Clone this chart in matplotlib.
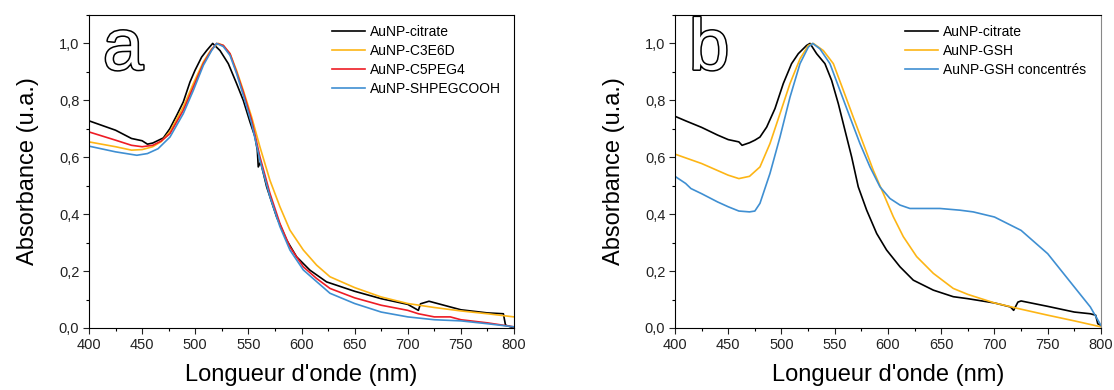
import numpy as np
from matplotlib import pyplot as plt
from matplotlib.ticker import MultipleLocator, FuncFormatter
import matplotlib.patheffects as pe

plt.rcParams['font.family'] = ['Liberation Sans', 'DejaVu Sans']

# ---- panel a ----
wl_cit_a = [400, 425, 440, 450, 455, 460, 470, 476, 482.5, 488.7, 495, 499.7, 506, 510.7, 516.4, 523.3,
            531.1, 538.9, 545.2, 551.5, 556.2, 558.4, 559.3, 561.5, 567.2, 576.6, 586, 595.4, 608, 623.6,
            650, 675, 700, 710, 712, 720, 750, 775, 790, 792, 800]
abs_cit_a = [0.728, 0.695, 0.666, 0.658, 0.646, 0.650, 0.668, 0.700, 0.747, 0.794, 0.864, 0.905, 0.952,
             0.975, 1.0, 0.975, 0.929, 0.859, 0.800, 0.724, 0.672, 0.625, 0.566, 0.584, 0.496, 0.390, 0.309,
             0.250, 0.203, 0.162, 0.129, 0.103, 0.083, 0.062, 0.085, 0.094, 0.064, 0.053, 0.050, 0.010, 0.0]

wl_c3_a = [400, 425, 440, 450, 460, 468, 476.2, 488.7, 498.2, 507.6, 515.4, 521.7, 526.4, 532.7, 538.9,
           545.2, 553.1, 560.9, 570.3, 579.7, 589.1, 601.7, 614.2, 626.8, 650, 675, 700, 725, 750, 775, 800]
abs_c3_a = [0.654, 0.637, 0.625, 0.627, 0.637, 0.655, 0.690, 0.777, 0.859, 0.935, 0.981, 1.0, 0.993, 0.964,
            0.905, 0.835, 0.741, 0.636, 0.519, 0.426, 0.344, 0.274, 0.221, 0.180, 0.142, 0.109, 0.086,
            0.072, 0.060, 0.050, 0.039]

wl_c5_a = [400, 425, 440, 450, 460, 468, 476.2, 488.7, 498.2, 507.6, 515.4, 520.1, 526.4, 532.7, 538.9,
           545.2, 553.1, 560.9, 570.3, 579.7, 589.1, 601.7, 614.2, 626.8, 650, 675, 700, 710, 725, 740, 750,
           775, 800]
abs_c5_a = [0.689, 0.660, 0.642, 0.637, 0.642, 0.657, 0.683, 0.765, 0.847, 0.929, 0.978, 1.0, 0.993, 0.964,
            0.899, 0.829, 0.730, 0.601, 0.473, 0.367, 0.285, 0.215, 0.174, 0.139, 0.106, 0.080, 0.062,
            0.050, 0.039, 0.039, 0.029, 0.018, 0.004]

wl_shp_a = [400, 425, 445, 455, 465, 476.2, 488.7, 498.2, 507.6, 515.4, 520.1, 526.4, 532.7, 538.9, 545.2,
            553.1, 560.9, 570.3, 579.7, 589.1, 601.7, 614.2, 626.8, 650, 675, 700, 725, 750, 775, 800]
abs_shp_a = [0.639, 0.619, 0.607, 0.613, 0.630, 0.671, 0.753, 0.835, 0.923, 0.975, 1.0, 0.989, 0.958,
             0.894, 0.818, 0.718, 0.589, 0.461, 0.356, 0.274, 0.204, 0.163, 0.122, 0.086, 0.056, 0.039,
             0.029, 0.025, 0.015, 0.004]

# ---- panel b ----
wl_cit_b = [400, 410, 425, 440, 450, 460, 463, 470, 475, 479.8, 486.1, 493.9, 501.7, 509.5, 515.8, 523.6,
            526.8, 533, 540.8, 547.1, 553.4, 559.6, 565.9, 572.1, 580, 589.4, 598.7, 611.3, 623.8, 642.6,
            661.3, 675, 700, 715, 718, 722, 725, 750, 775, 790, 795, 797, 800]
abs_cit_b = [0.744, 0.728, 0.705, 0.678, 0.662, 0.654, 0.642, 0.651, 0.660, 0.671, 0.706, 0.771, 0.859,
             0.929, 0.964, 0.993, 1.0, 0.964, 0.929, 0.870, 0.788, 0.695, 0.601, 0.496, 0.414, 0.332,
             0.274, 0.215, 0.168, 0.133, 0.110, 0.103, 0.088, 0.074, 0.062, 0.091, 0.095, 0.076, 0.056,
             0.050, 0.045, 0.015, 0.009]

wl_gsh_b = [400, 425, 450, 460, 470, 479.8, 489.2, 498.6, 508, 517.4, 525.2, 529.9, 539.3, 548.7, 558.1,
            567.4, 576.8, 586.2, 595.6, 605, 614.4, 626.9, 642.6, 661.3, 675, 700, 725, 750, 775, 800]
abs_gsh_b = [0.611, 0.578, 0.537, 0.525, 0.533, 0.566, 0.648, 0.753, 0.859, 0.946, 0.993, 1.0, 0.975,
             0.929, 0.835, 0.741, 0.648, 0.554, 0.473, 0.391, 0.321, 0.251, 0.192, 0.139, 0.118, 0.088,
             0.066, 0.045, 0.025, 0.004]

wl_conc_b = [400, 410, 415, 425, 440, 450, 460, 470, 475, 479.8, 489.2, 498.6, 508, 517.4, 525.2, 529.3,
             536.1, 545.5, 554.9, 564.3, 573.7, 583.1, 592.5, 601.9, 611.3, 620.6, 630, 648.8, 667.6, 680,
             700, 725, 750, 775, 790, 800]
abs_conc_b = [0.533, 0.508, 0.490, 0.472, 0.443, 0.426, 0.411, 0.408, 0.411, 0.438, 0.543, 0.671, 0.811,
              0.929, 0.987, 1.0, 0.981, 0.929, 0.835, 0.741, 0.648, 0.566, 0.496, 0.455, 0.432, 0.420,
              0.420, 0.420, 0.414, 0.408, 0.390, 0.343, 0.261, 0.144, 0.074, 0.009]

BLACK = '#000000'
ORANGE = '#FDB515'
RED = '#EE1C25'
BLUE = '#3F8FD2'


def style_axis(ax, letter, leg_x):
    ax.set_xlim(400, 800)
    ax.set_ylim(0, 1.1)
    ax.xaxis.set_major_locator(MultipleLocator(50))
    ax.xaxis.set_minor_locator(MultipleLocator(25))
    ax.yaxis.set_major_locator(MultipleLocator(0.2))
    ax.yaxis.set_minor_locator(MultipleLocator(0.1))
    ax.yaxis.set_major_formatter(FuncFormatter(lambda v, p: '{:.1f}'.format(v).replace('.', ',')))
    ax.tick_params(which='major', direction='out', length=4, width=0.8, labelsize=10.5,
                   colors='#222222', pad=3)
    ax.tick_params(which='minor', direction='out', length=2.5, width=0.8)
    ax.set_xlabel("Longueur d'onde (nm)", fontsize=17, labelpad=9)
    ax.set_ylabel('Absorbance (u.a.)', fontsize=17, labelpad=14)
    ax.text(0.033, 0.826, letter, transform=ax.transAxes, fontsize=52, color='white',
            ha='left', va='baseline',
            path_effects=[pe.withStroke(linewidth=2.2, foreground='black')])
    ax.legend(loc='upper left', bbox_to_anchor=(leg_x, 0.968), frameon=False, fontsize=10,
              borderpad=0, borderaxespad=0, handlelength=2.4, handletextpad=0.35,
              labelspacing=0.35)


fig = plt.figure(figsize=(11.14, 3.9), dpi=100)
ax1 = fig.add_axes([0.0799, 0.159, 0.3815, 0.8026])
ax2 = fig.add_axes([0.6059, 0.159, 0.3824, 0.8026])

lw = 1.2
ax1.plot(wl_cit_a, abs_cit_a, color=BLACK, lw=lw, label='AuNP-citrate')
ax1.plot(wl_c3_a, abs_c3_a, color=ORANGE, lw=lw, label='AuNP-C3E6D')
ax1.plot(wl_c5_a, abs_c5_a, color=RED, lw=lw, label='AuNP-C5PEG4')
ax1.plot(wl_shp_a, abs_shp_a, color=BLUE, lw=lw, label='AuNP-SHPEGCOOH')
style_axis(ax1, 'a', 0.572)

ax2.plot(wl_cit_b, abs_cit_b, color=BLACK, lw=lw, label='AuNP-citrate')
ax2.plot(wl_gsh_b, abs_gsh_b, color=ORANGE, lw=lw, label='AuNP-GSH')
ax2.plot(wl_conc_b, abs_conc_b, color=BLUE, lw=lw, label='AuNP-GSH concentrés')
style_axis(ax2, 'b', 0.54)
ax2.spines['right'].set_color('#888888')

fig.savefig('out.png', dpi=100)
